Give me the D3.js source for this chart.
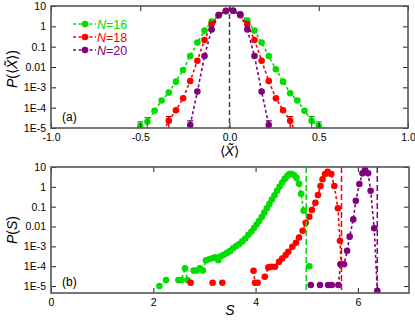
<!DOCTYPE html>
<html>
<head>
<meta charset="utf-8">
<script src="https://cdn.jsdelivr.net/npm/d3@7"></script>
<style>
  body { margin: 0; background: #fff; }
  svg { font-family: "Liberation Sans", Arial, sans-serif; }
</style>
</head>
<body>
<div id="chart"></div>
<script>
// ---- data: panel (a), distribution of <X~> (log10 P) ----
const xN16 = [-0.50,-0.46,-0.42,-0.38,-0.34,-0.30,-0.26,-0.22,-0.18,-0.14,-0.10,-0.06,-0.02,
              0.02,0.06,0.10,0.14,0.18,0.22,0.26,0.30,0.34,0.38,0.42,0.46,0.50];
const logPN16 = [-4.90,-4.69,-4.15,-3.65,-3.26,-2.72,-2.15,-1.46,-0.80,-0.21,0.23,0.55,0.74,
                 0.77,0.61,0.28,-0.21,-0.80,-1.46,-2.11,-2.72,-3.29,-3.65,-4.15,-4.64,-4.90];
const xN18 = [-0.38,-0.34,-0.30,-0.26,-0.22,-0.18,-0.14,-0.10,-0.06,-0.02,
              0.02,0.06,0.10,0.14,0.18,0.22,0.26,0.30,0.34,0.38];
const logPN18 = [-5.40,-4.64,-4.13,-3.54,-2.69,-1.69,-0.67,0.11,0.55,0.77,
                 0.77,0.55,0.11,-0.67,-1.69,-2.69,-3.54,-4.13,-4.64,-5.40];
const xN20 = [-0.22,-0.18,-0.14,-0.10,-0.06,-0.02,0.02,0.06,0.10,0.14,0.18,0.22];
const logPN20 = [-4.85,-3.21,-1.46,-0.15,0.56,0.75,0.77,0.58,-0.15,-1.46,-3.21,-4.85];

// ---- data: panel (b), distribution of S (log10 P) ----
const sN16 = [2.12,2.25,2.49,2.55,2.62,2.67,2.79,2.85,2.91,2.97,3.03,3.09,3.15,3.21,3.27,3.32,
              3.38,3.44,3.50,3.56,3.62,3.68,3.74,3.80,3.86,3.92,3.97,4.02,4.07,4.12,4.17,4.22,
              4.27,4.32,4.37,4.42,4.47,4.52,4.57,4.62,4.66,4.70,4.75,4.80,4.85,4.89,4.94,5.05];
const logSN16 = [-5.00,-4.70,-4.70,-4.70,-4.10,-4.70,-4.22,-4.22,-4.10,-4.22,-3.70,-3.65,-3.60,-3.55,-3.70,-3.50,
                 -3.42,-3.33,-3.24,-3.10,-2.98,-2.88,-2.75,-2.60,-2.42,-2.25,-2.08,-1.90,-1.72,-1.52,-1.30,-1.08,
                 -0.86,-0.64,-0.42,-0.20,0.02,0.22,0.40,0.55,0.64,0.66,0.60,0.45,0.15,-0.35,-1.20,-4.00];
const sN18 = [2.73,3.16,3.35,3.96,3.99,4.04,4.18,4.25,4.31,4.38,4.46,4.52,4.59,4.64,4.72,4.79,
              4.85,4.92,4.98,5.05,5.10,5.17,5.22,5.27,5.31,5.36,5.41,5.48,5.54,5.61,5.65,5.67];
const logSN18 = [-4.83,-4.83,-4.83,-4.23,-4.83,-4.83,-4.53,-4.06,-4.03,-4.03,-3.78,-3.61,-3.44,-3.27,-3.02,-2.82,
                 -2.55,-2.21,-1.81,-1.51,-1.17,-0.80,-0.41,0.04,0.38,0.65,0.76,0.65,0.04,-1.08,-2.72,-3.90];
const sN20 = [5.08,5.26,5.42,5.49,5.62,5.66,5.73,5.79,5.84,5.91,5.96,6.03,6.09,6.14,6.20,6.25,6.32,6.38];
const logSN20 = [-4.95,-4.95,-4.95,-4.95,-4.95,-3.90,-3.90,-3.22,-2.51,-1.64,-0.70,0.14,0.68,0.88,0.68,-0.20,-2.09,-5.24];

// largest S reachable for each N (dashed vertical lines)
const sMax = [4.99, 5.68, 6.38];

const sizes = [16, 18, 20];
const colors = ["#00dd00", "#ff0000", "#800080"];

const xTicksA = [-1, -0.5, 0, 0.5, 1];
const xTickLabelsA = ["-1.0", "-0.5", "0.0", "0.5", "1.0"];
const yTicks = [10, 1, 0.1, 0.01, 1e-3, 1e-4, 1e-5];
const yTickLabels = ["10", "1", "0.1", "0.01", "1E-3", "1E-4", "1E-5"];
const xTicksB = [0, 2, 4, 6];

const width = 415;
const height = 320;

const svg = d3.create("svg")
    .attr("width", width)
    .attr("height", height);

const tickFont = "10.5px";
const frameColor = "#555";

function zipLog(xs, logs) {
    return xs.map((x, i) => ({ x: x, p: Math.pow(10, logs[i]) }));
}

function drawFrame(g, x, y, xTicks, xLabels, clipId) {
    const [x0, x1] = x.range();
    const [y0, y1] = y.range();

    svg.append("clipPath").attr("id", clipId)
        .append("rect")
        .attr("x", x0).attr("y", y1)
        .attr("width", x1 - x0).attr("height", y0 - y1);

    const bottom = g.append("g")
        .attr("transform", `translate(0,${y0})`)
        .call(d3.axisBottom(x).tickValues(xTicks)
            .tickFormat((d, i) => xLabels[i])
            .tickSizeInner(-5).tickSizeOuter(0).tickPadding(6));
    const top = g.append("g")
        .attr("transform", `translate(0,${y1})`)
        .call(d3.axisTop(x).tickValues(xTicks).tickFormat("")
            .tickSizeInner(-5).tickSizeOuter(0));
    const left = g.append("g")
        .attr("transform", `translate(${x0},0)`)
        .call(d3.axisLeft(y).tickValues(yTicks)
            .tickFormat((d, i) => yTickLabels[i])
            .tickSizeInner(-5).tickSizeOuter(0).tickPadding(5));
    const right = g.append("g")
        .attr("transform", `translate(${x1},0)`)
        .call(d3.axisRight(y).tickValues(yTicks).tickFormat("")
            .tickSizeInner(-5).tickSizeOuter(0));

    [bottom, top, left, right].forEach(a => {
        a.select(".domain").remove();
        a.selectAll("line").attr("stroke", "#222").attr("stroke-width", 1);
        a.selectAll("text")
            .attr("font-family", "Liberation Sans, Arial, sans-serif")
            .attr("font-size", tickFont)
            .attr("fill", "#000");
    });

    g.append("rect")
        .attr("x", x0).attr("y", y1)
        .attr("width", x1 - x0).attr("height", y0 - y1)
        .attr("fill", "none")
        .attr("stroke", frameColor)
        .attr("stroke-width", 1.6);
}

function drawSeries(g, x, y, pts, color, clipId, maxGap) {
    const layer = g.append("g").attr("clip-path", `url(#${clipId})`);
    const line = d3.line()
        .x(d => x(d.x))
        .y(d => y(d.p));

    // split where bins are empty (gap in x)
    const segments = [];
    let cur = [];
    pts.forEach((d, i) => {
        if (i > 0 && d.x - pts[i - 1].x > maxGap) {
            segments.push(cur);
            cur = [];
        }
        cur.push(d);
    });
    segments.push(cur);

    layer.selectAll("path.seg")
        .data(segments.filter(s => s.length > 1))
        .join("path")
        .attr("class", "seg")
        .attr("d", line)
        .attr("fill", "none")
        .attr("stroke", color)
        .attr("stroke-width", 1.6)
        .attr("stroke-dasharray", "3,2.5");

    layer.selectAll("circle")
        .data(pts)
        .join("circle")
        .attr("cx", d => x(d.x))
        .attr("cy", d => y(d.p))
        .attr("r", 3.3)
        .attr("fill", color);
    return layer;
}

// ---------------- panel (a) ----------------
const xA = d3.scaleLinear([-1, 1], [51, 408]);
const yA = d3.scaleLog([1e-5, 10], [128, 6]);
const gA = svg.append("g");

gA.append("line")
    .attr("x1", xA(0)).attr("x2", xA(0))
    .attr("y1", yA.range()[1]).attr("y2", yA.range()[0])
    .attr("stroke", "#444")
    .attr("stroke-width", 1.5)
    .attr("stroke-dasharray", "5,3");

const seriesA = [zipLog(xN16, logPN16), zipLog(xN18, logPN18), zipLog(xN20, logPN20)];
seriesA.forEach((pts, i) => {
    const layer = drawSeries(gA, xA, yA, pts, colors[i], "clipA", 0.05);
    // error bars on the rarest bins
    const low = pts.filter(d => d.p < 5e-5);
    layer.selectAll("path.err")
        .data(low)
        .join("path")
        .attr("class", "err")
        .attr("d", d => {
            const cx = xA(d.x), ya = yA(d.p * 1.6), yb = yA(d.p / 3);
            return `M${cx - 3},${ya}H${cx + 3}M${cx},${ya}V${yb}M${cx - 3},${yb}H${cx + 3}`;
        })
        .attr("fill", "none")
        .attr("stroke", d3.color(colors[i]).darker(0.6))
        .attr("stroke-width", 1.3);
});

drawFrame(gA, xA, yA, xTicksA, xTickLabelsA, "clipA");

// legend
const legend = gA.append("g");
const legendY = [24, 37, 50];
sizes.forEach((n, i) => {
    const row = legend.append("g").attr("transform", `translate(0,${legendY[i]})`);
    row.append("line")
        .attr("x1", 73).attr("x2", 96)
        .attr("stroke", colors[i])
        .attr("stroke-width", 1.6)
        .attr("stroke-dasharray", "3,2.5");
    row.append("circle").attr("cx", 85).attr("r", 3.3).attr("fill", colors[i]);
    const t = row.append("text")
        .attr("x", 97).attr("y", 4.5)
        .attr("font-size", "12.5px")
        .attr("fill", colors[i]);
    t.append("tspan").attr("font-style", "italic").text("N");
    t.append("tspan").text("=" + n);
});

gA.append("text")
    .attr("x", 62).attr("y", 121)
    .attr("font-size", "12px")
    .text("(a)");

// axis titles (a)
const yTitleA = svg.append("text")
    .attr("transform", "translate(17,69) rotate(-90)")
    .attr("text-anchor", "middle")
    .attr("font-size", "14px");
yTitleA.append("tspan").attr("font-style", "italic").text("P");
yTitleA.append("tspan").text("(\u27E8");
yTitleA.append("tspan").attr("font-style", "italic").text("X\u0303");
yTitleA.append("tspan").text("\u27E9)");

const xTitleA = svg.append("text")
    .attr("x", xA(0)).attr("y", 156)
    .attr("text-anchor", "middle")
    .attr("font-size", "14px");
xTitleA.append("tspan").text("\u27E8");
xTitleA.append("tspan").attr("font-style", "italic").text("X\u0303");
xTitleA.append("tspan").text("\u27E9");

// ---------------- panel (b) ----------------
const xB = d3.scaleLinear([0, 7], [51, 409]);
const yB = d3.scaleLog([Math.pow(10, -5.35), 10], [293, 167]);
const gB = svg.append("g");

const seriesB = [zipLog(sN16, logSN16), zipLog(sN18, logSN18), zipLog(sN20, logSN20)];
seriesB.forEach((pts, i) => {
    drawSeries(gB, xB, yB, pts, colors[i], "clipB", 0.1);
});

gB.selectAll("line.smax")
    .data(sMax)
    .join("line")
    .attr("class", "smax")
    .attr("x1", d => xB(d)).attr("x2", d => xB(d))
    .attr("y1", yB.range()[1]).attr("y2", yB.range()[0])
    .attr("stroke", (d, i) => colors[i])
    .attr("stroke-width", 1.5)
    .attr("stroke-dasharray", "6,3");

drawFrame(gB, xB, yB, xTicksB, xTicksB.map(String), "clipB");

gB.append("text")
    .attr("x", 62).attr("y", 286)
    .attr("font-size", "12px")
    .text("(b)");

const yTitleB = svg.append("text")
    .attr("transform", "translate(17,230) rotate(-90)")
    .attr("text-anchor", "middle")
    .attr("font-size", "14px");
yTitleB.append("tspan").attr("font-style", "italic").text("P");
yTitleB.append("tspan").text("(");
yTitleB.append("tspan").attr("font-style", "italic").text("S");
yTitleB.append("tspan").text(")");

svg.append("text")
    .attr("x", xB(3.5)).attr("y", 315)
    .attr("text-anchor", "middle")
    .attr("font-size", "14px")
    .attr("font-style", "italic")
    .text("S");

d3.select("#chart").node().append(svg.node());
</script>
</body>
</html>
